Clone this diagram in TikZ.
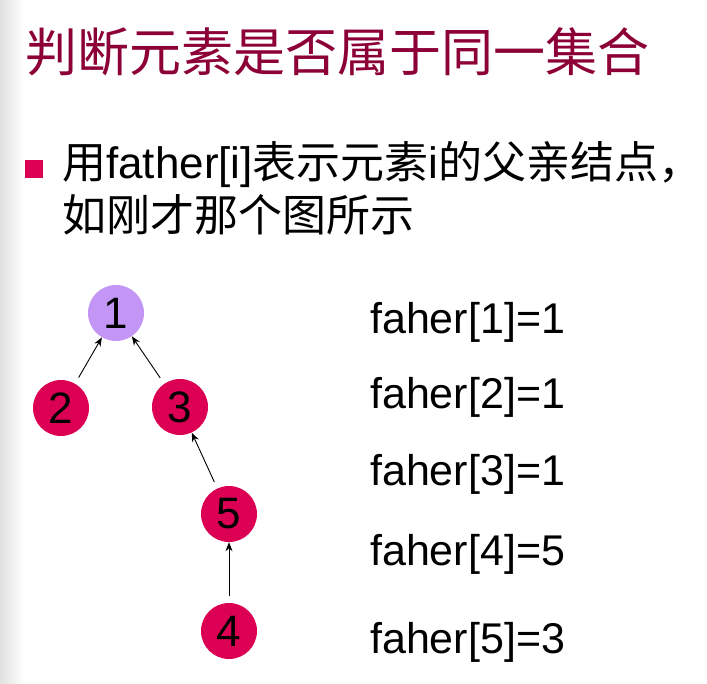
\documentclass[tikz,border=0pt]{standalone}
\usepackage{fontspec}
\setmainfont{Liberation Sans}
\newfontfamily\cjk{Noto Sans CJK SC}
\usetikzlibrary{arrows.meta,positioning}
\definecolor{ttlclr}{RGB}{140,0,55}
\definecolor{nodeclr}{RGB}{220,0,85}
\definecolor{rootclr}{RGB}{195,150,245}
\definecolor{edgeclr}{RGB}{225,225,225}
\tikzset{
  %% tree node
  tnd/.style={circle,fill=nodeclr,minimum size=56pt,inner sep=0pt,
    font=\fontsize{44}{44}\selectfont,text=black},
  %% root node
  rnd/.style={tnd,fill=rootclr},
  %% arrows
  arr/.style={-{Stealth[length=9pt,width=7pt]},line width=0.9pt,shorten <=7pt},
  %% text lines
  ttl/.style={anchor=base west,inner sep=0pt,text=ttlclr,
    font=\cjk\fontsize{52}{52}\selectfont},
  btxt/.style={anchor=base west,inner sep=0pt,font=\fontsize{44}{44}\selectfont},
  fline/.style={anchor=base west,inner sep=0pt,font=\fontsize{43}{43}\selectfont},
}
\begin{document}
\begin{tikzpicture}[x=1pt,y=-1pt]
  \useasboundingbox (0,0) rectangle (707,683);
  \fill[white] (0,0) rectangle (707,683);
  \shade[left color=edgeclr,right color=white] (0,0) rectangle (24,683);

  %% title and bullet
  \node[ttl] (title) at (25,71) {判断元素是否属于同一集合};
  \node[fill=nodeclr,minimum size=18pt,inner sep=0pt] (blt) at (34,169) {};
  \node[btxt] (l1) at (62,178) {{\cjk 用}father[i]{\cjk 表示元素}i{\cjk 的父亲结点，}};
  \node[btxt] (l2) at (62,231) {{\cjk 如刚才那个图所示}};

  %% tree
  \node[rnd] (n1) at (116,313) {1};
  \node[tnd] (n2) at (61,408)  {2};
  \node[tnd] (n3) at (180,407) {3};
  \node[tnd] (n5) at (229,514) {5};
  \node[tnd] (n4) at (229,631) {4};

  \draw[arr] (n2) -- (n1);
  \draw[arr] (n3) -- (n1);
  \draw[arr] (n5) -- (n3);
  \draw[arr] (n4) -- (n5);

  %% father array
  \foreach \i/\p/\y in {1/1/333,2/1/408,3/1/485,4/5/565,5/3/653}
    \node[fline] (f\i) at (370,\y) {faher[\i]=\p};
\end{tikzpicture}
\end{document}
